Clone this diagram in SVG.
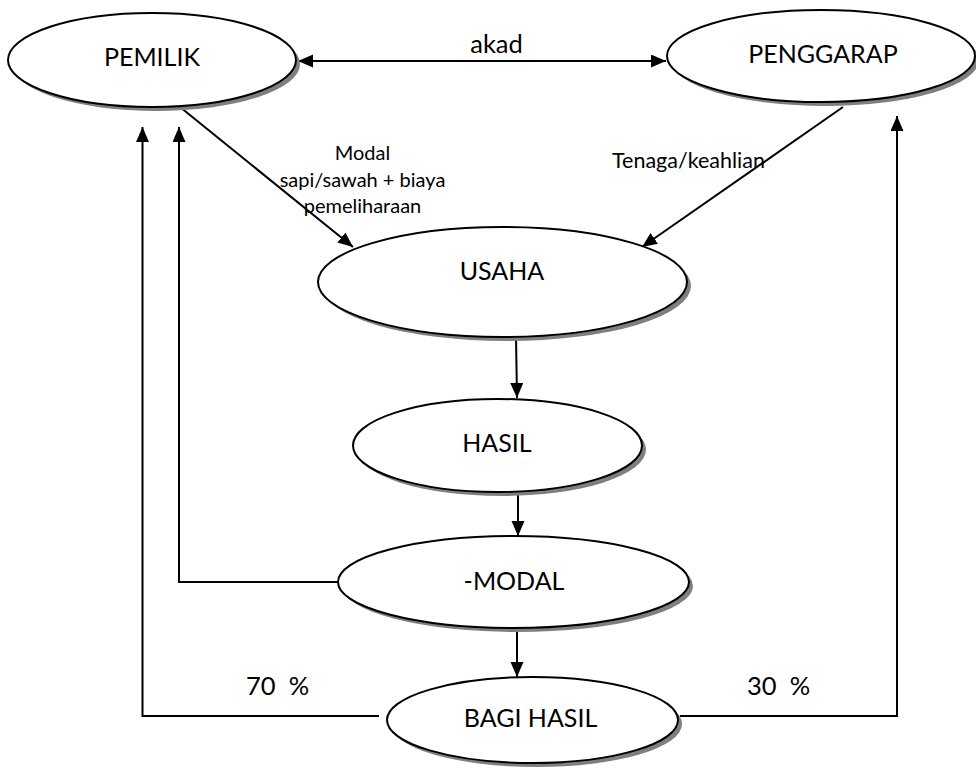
<svg xmlns="http://www.w3.org/2000/svg" width="976" height="769" viewBox="0 0 976 769">
<defs>
<marker id="ah" markerUnits="userSpaceOnUse" markerWidth="16" markerHeight="14" refX="15" refY="6.5" orient="auto-start-reverse" viewBox="0 0 16 14">
<path d="M0,0 L15,6.5 L0,13 z" fill="#000"/>
</marker>
<style>
.sh{fill:#7f7f7f;}
.el{fill:#fff;stroke:#000;stroke-width:2;}
.nt{font-family:Lato,"Liberation Sans",sans-serif;font-size:25px;fill:#000;text-anchor:middle;}
.lb{font-family:Lato,"Liberation Sans",sans-serif;font-size:20px;fill:#000;}
.pc{font-family:Lato,"Liberation Sans",sans-serif;font-size:25.5px;fill:#000;}
.cn{fill:none;stroke:#000;stroke-width:2;}
</style>
</defs>
<rect width="976" height="769" fill="#fff"/>
<g id="connectors">
<line class="cn" x1="298" y1="61" x2="666" y2="61" marker-start="url(#ah)" marker-end="url(#ah)"/>
<line class="cn" x1="180" y1="107" x2="353" y2="247" marker-end="url(#ah)"/>
<line class="cn" x1="843" y1="107" x2="642" y2="247" marker-end="url(#ah)"/>
<line class="cn" x1="516" y1="337" x2="517" y2="398" marker-end="url(#ah)"/>
<line class="cn" x1="518" y1="492" x2="518" y2="536" marker-end="url(#ah)"/>
<line class="cn" x1="517" y1="628" x2="517" y2="677" marker-end="url(#ah)"/>
<polyline class="cn" points="338,582 179,582 179,127" marker-end="url(#ah)"/>
<polyline class="cn" points="379,716 142.5,716 142.5,127" marker-end="url(#ah)"/>
<polyline class="cn" points="680,716 897,716 897,116" marker-end="url(#ah)"/>
<text class="pc" x="496.5" y="53" text-anchor="middle">akad</text>
<text class="lb" x="362.5" y="160" text-anchor="middle">Modal</text>
<text class="lb" x="362.5" y="187" text-anchor="middle">sapi/sawah + biaya</text>
<text class="lb" x="362.5" y="213" text-anchor="middle">pemeliharaan</text>
<text class="lb" x="612" y="168" style="font-size:21.5px">Tenaga/keahlian</text>
<text class="pc" x="246" y="695" xml:space="preserve">70  %</text>
<text class="pc" x="747" y="695" xml:space="preserve">30  %</text>
</g>
<g id="pemilik">
<ellipse class="sh" cx="156" cy="64" rx="144" ry="47"/>
<ellipse class="el" cx="152" cy="60" rx="144" ry="47"/>
<text class="nt" x="152" y="66">PEMILIK</text>
</g>
<g id="penggarap">
<ellipse class="sh" cx="825" cy="60" rx="154" ry="46"/>
<ellipse class="el" cx="821" cy="56" rx="154" ry="46"/>
<text class="nt" x="823" y="63">PENGGARAP</text>
</g>
<g id="usaha">
<ellipse class="sh" cx="506.5" cy="286" rx="184.5" ry="55"/>
<ellipse class="el" cx="502.5" cy="282" rx="184.5" ry="55"/>
<text class="nt" x="502" y="280">USAHA</text>
</g>
<g id="hasil">
<ellipse class="sh" cx="501.5" cy="449.5" rx="144.5" ry="46.5"/>
<ellipse class="el" cx="497.5" cy="445.5" rx="144.5" ry="46.5"/>
<text class="nt" x="497" y="452">HASIL</text>
</g>
<g id="modal">
<ellipse class="sh" cx="517.5" cy="586" rx="175.5" ry="46"/>
<ellipse class="el" cx="513.5" cy="582" rx="175.5" ry="46"/>
<text class="nt" x="514" y="590">-MODAL</text>
</g>
<g id="bagi-hasil">
<ellipse class="sh" cx="536.5" cy="724" rx="145.5" ry="43"/>
<ellipse class="el" cx="532.5" cy="720" rx="145.5" ry="43"/>
<text class="nt" x="530.5" y="727">BAGI HASIL</text>
</g>
</svg>
